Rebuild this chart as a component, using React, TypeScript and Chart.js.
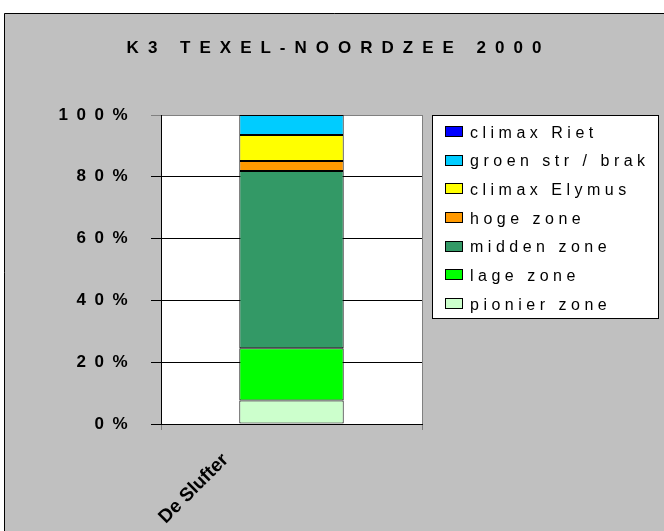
import React, { useEffect, useRef } from 'react';
import { Chart, registerables } from 'chart.js';

Chart.register(...registerables);

const FONT = '"Liberation Sans", Arial, Helvetica, sans-serif';

const chartTitle = 'K3 TEXEL-NOORDZEE 2000';
const categories = ['De Slufter'];

// stacking order: bottom -> top
const seriesNames = [
  'pionier zone',
  'lage zone',
  'midden zone',
  'hoge zone',
  'climax Elymus',
  'groen str / brak',
  'climax Riet',
];
const pionierZone = [7.6];
const lageZone = [16.9];
const middenZone = [57.4];
const hogeZone = [3.2];
const climaxElymus = [8.4];
const groenStrBrak = [6.5];
const climaxRiet = [0];
const seriesValues = [pionierZone, lageZone, middenZone, hogeZone, climaxElymus, groenStrBrak, climaxRiet];
const seriesColors = ['#CCFFCC', '#00FF00', '#339966', '#FF9900', '#FFFF00', '#00CCFF', '#0000FF'];

const yTickValues = [0, 20, 40, 60, 80, 100];

const framePlugin = {
  id: 'excelFrame',
  beforeDraw(chart: any) {
    const { ctx, width, height, chartArea: a } = chart;
    ctx.save();
    (ctx as any).letterSpacing = '0px';
    ctx.fillStyle = '#ffffff';
    ctx.fillRect(0, 0, width, height);
    ctx.fillStyle = '#C0C0C0';
    ctx.fillRect(4, 13, width - 4, height - 13);
    ctx.strokeStyle = '#000000';
    ctx.lineWidth = 1;
    ctx.beginPath();
    ctx.moveTo(4.5, height);
    ctx.lineTo(4.5, 13.5);
    ctx.lineTo(width, 13.5);
    ctx.stroke();
    ctx.fillStyle = '#ffffff';
    ctx.fillRect(a.left, a.top, a.right - a.left, a.bottom - a.top);
    ctx.restore();
    (ctx as any).letterSpacing = '0px';
  },
  afterDatasetsDraw(chart: any) {
    // y tick labels (z = 1) are drawn after this hook, with wide letter spacing
    (chart.ctx as any).letterSpacing = '8.5px';
  },
  afterDraw(chart: any) {
    const ctx = chart.ctx;
    ctx.save();
    // title
    (ctx as any).letterSpacing = '9px';
    ctx.font = `bold 17px ${FONT}`;
    ctx.fillStyle = '#000';
    ctx.textAlign = 'left';
    ctx.textBaseline = 'middle';
    const tw = ctx.measureText(chartTitle).width - 9;
    ctx.fillText(chartTitle, 334 - tw / 2, 48);

    // legend
    const bx = 432, by = 115, bw = 227, bh = 204;
    ctx.fillStyle = '#fff';
    ctx.fillRect(bx, by, bw, bh);
    ctx.strokeStyle = '#000';
    ctx.lineWidth = 1;
    ctx.strokeRect(bx + 0.5, by + 0.5, bw - 1, bh - 1);
    (ctx as any).letterSpacing = '4.5px';
    ctx.font = `16px ${FONT}`;
    ctx.textBaseline = 'alphabetic';
    const items = chart.data.datasets.slice().reverse();
    items.forEach((d: any, i: number) => {
      const cy = by + 16.5 + i * 28.67;
      const sy = Math.round(cy - 5.5);
      ctx.fillStyle = d.backgroundColor;
      ctx.fillRect(445, sy, 18, 11);
      ctx.strokeStyle = '#000';
      ctx.strokeRect(445.5, sy + 0.5, 17, 10);
      ctx.fillStyle = '#000';
      ctx.fillText(d.label, 470, cy + 6);
    });
    ctx.restore();
    (ctx as any).letterSpacing = '0px';
  },
};

export default function App() {
  const ref = useRef<HTMLCanvasElement>(null);

  useEffect(() => {
    const canvas = ref.current;
    if (!canvas) return;
    const datasets = seriesNames.map((name, i) => ({
      label: name,
      data: seriesValues[i],
      backgroundColor: seriesColors[i],
      borderColor: '#000000',
      borderWidth: 1,
      borderSkipped: false as const,
      barPercentage: 0.4,
      categoryPercentage: 1,
      stack: 'zones',
    }));

    const chart = new Chart(canvas, {
      type: 'bar',
      data: { labels: categories, datasets },
      plugins: [framePlugin],
      options: {
        responsive: false,
        animation: false,
        devicePixelRatio: 1,
        layout: { padding: { left: 0, top: 115, right: 242, bottom: 0 } },
        plugins: {
          legend: { display: false },
          title: { display: false },
          tooltip: { enabled: false },
        },
        scales: {
          x: {
            stacked: true,
            offset: true,
            afterFit: (s: any) => {
              s.height = 107;
            },
            grid: {
              offset: true,
              drawOnChartArea: true,
              drawTicks: true,
              tickLength: 6,
              color: '#808080',
            },
            border: { display: true, color: '#000000', width: 1 },
            ticks: {
              autoSkip: false,
              minRotation: 45,
              maxRotation: 45,
              labelOffset: -66,
              padding: 19,
              color: '#000',
              font: { family: FONT, size: 19, weight: 'bold' },
              z: 0,
            },
          },
          y: {
            stacked: true,
            min: 0,
            max: 100,
            afterFit: (s: any) => {
              s.width = 161;
            },
            afterBuildTicks: (s: any) => {
              s.ticks = yTickValues.map((v) => ({ value: v }));
            },
            grid: {
              drawTicks: true,
              tickLength: 10,
              color: (c: any) => (c.tick && c.tick.value === 100 ? '#808080' : '#000000'),
            },
            border: { display: true, color: '#000000', width: 1 },
            ticks: {
              padding: 15,
              color: '#000',
              font: { family: FONT, size: 17, weight: 'bold' },
              callback: (v: any) => `${v}%`,
              z: 1,
            },
          },
        },
      },
    });
    return () => chart.destroy();
  }, []);

  return (
    <div style={{ position: 'fixed', left: 0, top: 0, width: 664, height: 531 }}>
      <canvas ref={ref} width={664} height={531} style={{ display: 'block', width: 664, height: 531 }} />
    </div>
  );
}
